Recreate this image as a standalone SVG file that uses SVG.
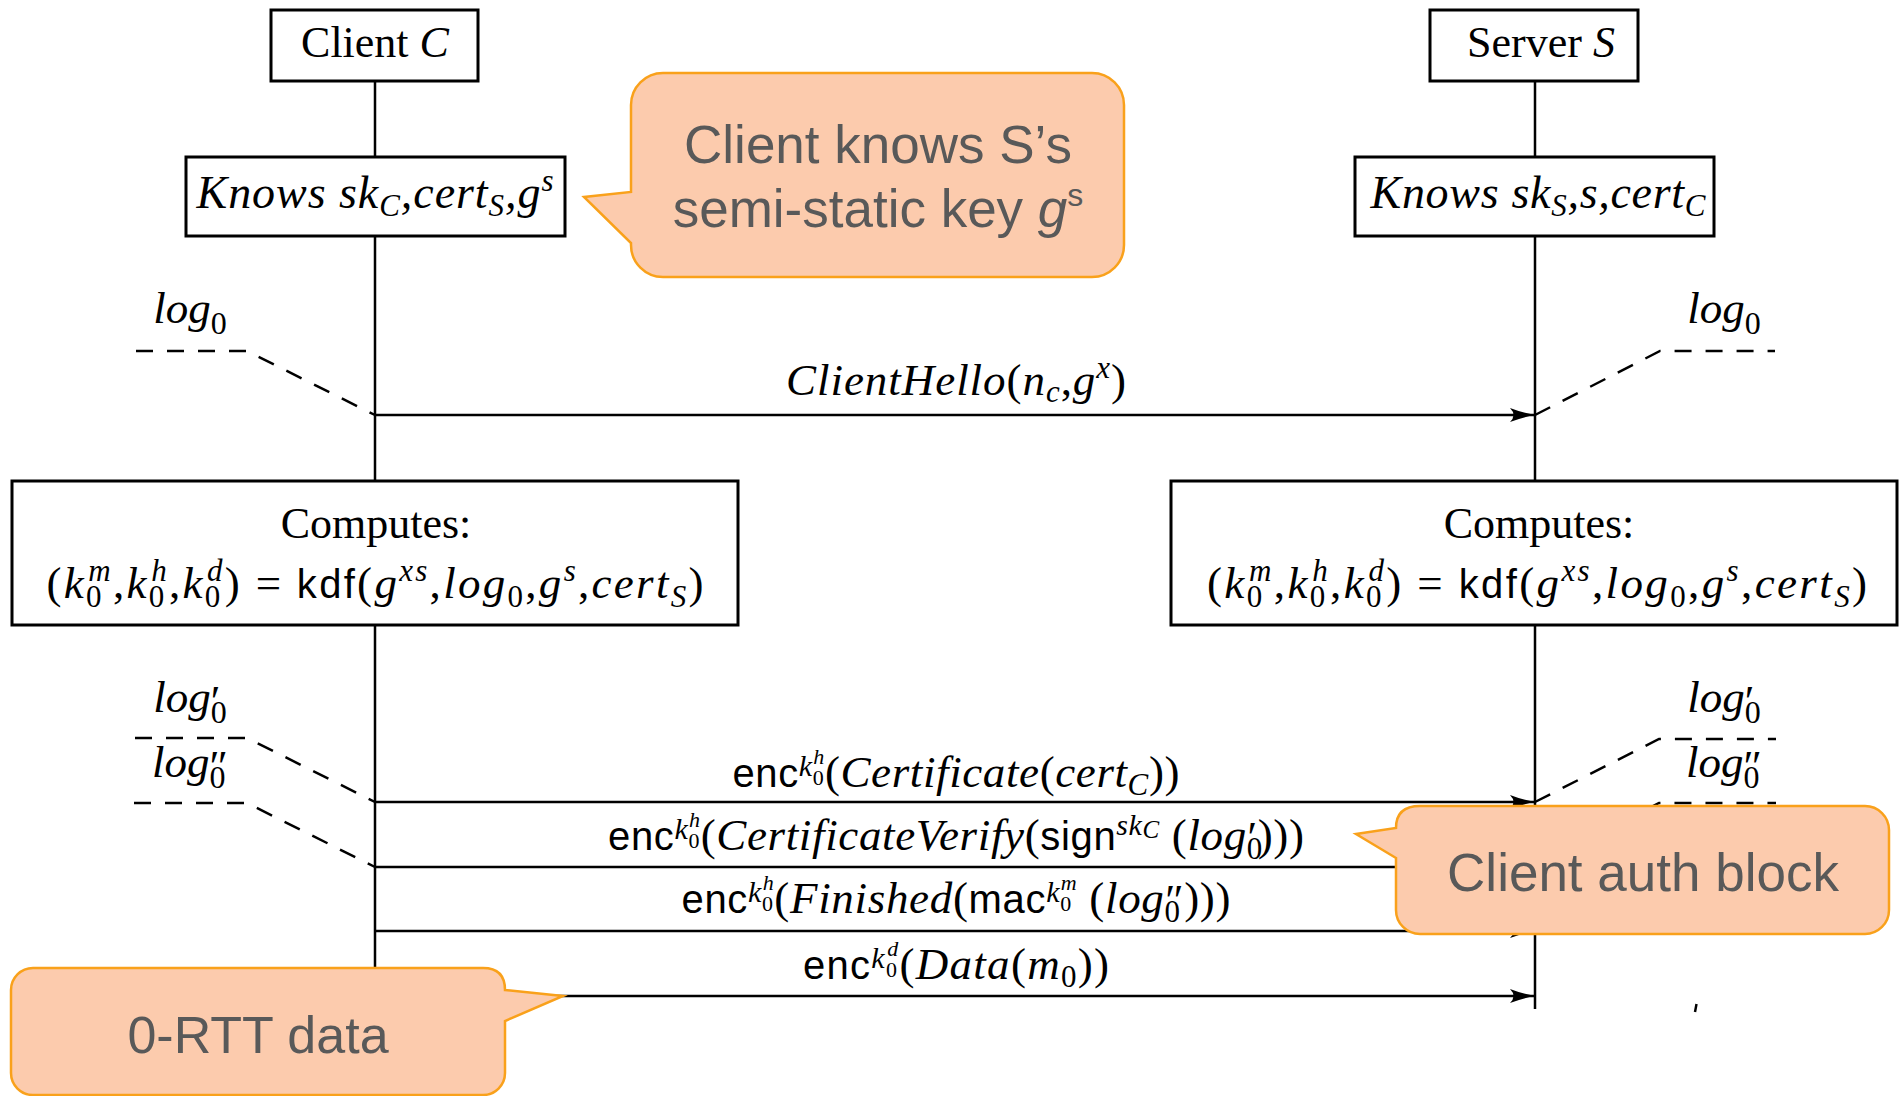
<svg xmlns="http://www.w3.org/2000/svg" width="1899" height="1096" viewBox="0 0 1899 1096">
<defs>
<style>
.box{fill:#fff;stroke:#000;stroke-width:3}
.life{fill:none;stroke:#000;stroke-width:2.5}
.msg{fill:none;stroke:#000;stroke-width:2.5;marker-end:url(#arrow)}
.dash{fill:none;stroke:#000;stroke-width:2.5;stroke-dasharray:17 14}
.t{font-family:"Liberation Serif","Times New Roman",serif;fill:#000}
.i{font-style:italic}
.sf{font-family:"Liberation Sans",Arial,sans-serif;font-style:normal;font-size:40px}
.pr{font-style:normal;font-size:44px}
.call{fill:#FCCBAD;stroke:#F9A11B;stroke-width:2.5}
.note{font-family:"Liberation Sans",Arial,sans-serif;fill:#595959}
</style>
<marker id="arrow" markerUnits="userSpaceOnUse" markerWidth="28" markerHeight="16" refX="26" refY="7" orient="auto" overflow="visible">
<path d="M26,7 Q14,5 1,0 Q8,7 1,14 Q14,9 26,7 Z" fill="#000"/>
</marker>
</defs>
<rect width="1899" height="1096" fill="#fff"/>

<!-- lifelines, messages and log markers -->
<g id="connectors">
<path class="life" d="M375,81 V157 M375,236 V481 M375,625 V1009"/>
<path class="life" d="M1535,81 V157 M1535,236 V481 M1535,625 V1009"/>
<path class="msg" d="M375,415 H1535"/>
<path class="msg" d="M375,802 H1535"/>
<path class="msg" d="M375,867 H1535"/>
<path class="msg" d="M375,931 H1535"/>
<path class="msg" d="M375,996 H1535"/>
<path class="dash" d="M136,351 H247 L375,415"/>
<path class="dash" d="M1535,415 L1660,351 H1775"/>
<path class="dash" d="M135,738 H247 L375,802"/>
<path class="dash" d="M134,803 H247 L375,867"/>
<path class="dash" d="M1535,802 L1659,739 H1776"/>
<path class="dash" d="M1535,867 L1659,803 H1776"/>
<path d="M1696.5,1004 L1695,1012" stroke="#000" stroke-width="2.5"/>
</g>

<g id="client">
<rect class="box" x="271" y="10" width="207" height="71"/>
<text class="t" x="375" y="57" font-size="44" text-anchor="middle">Client <tspan class="i">C</tspan></text>
</g>
<g id="server">
<rect class="box" x="1430" y="10" width="208" height="71"/>
<text class="t" x="1541" y="57" font-size="44" text-anchor="middle">Server <tspan class="i">S</tspan></text>
</g>

<g id="client-knows">
<rect class="box" x="186" y="157" width="379" height="79"/>
<text class="t i" x="375" y="208" font-size="46" text-anchor="middle" textLength="357" lengthAdjust="spacing">Knows sk<tspan font-size="31" dy="8">C</tspan><tspan dy="-8">,cert</tspan><tspan font-size="31" dy="8">S</tspan><tspan dy="-8">,g</tspan><tspan font-size="31" dy="-17">s</tspan></text>
</g>
<g id="server-knows">
<rect class="box" x="1355" y="157" width="359" height="79"/>
<text class="t i" x="1538" y="208" font-size="46" text-anchor="middle" textLength="335" lengthAdjust="spacing">Knows sk<tspan font-size="31" dy="8">S</tspan><tspan dy="-8">,s,cert</tspan><tspan font-size="31" dy="8">C</tspan></text>
</g>

<g id="client-computes">
<rect class="box" x="12" y="481" width="726" height="144"/>
<text class="t" x="376" y="538" font-size="44" text-anchor="middle">Computes:</text>
<text class="t" x="375" y="598" font-size="45" text-anchor="middle" textLength="657" lengthAdjust="spacing">(<tspan class="i">k</tspan><tspan font-size="31" dy="9">0</tspan><tspan class="i" font-size="31" dx="-15.5" dy="-26">m</tspan><tspan dy="17">,</tspan><tspan class="i">k</tspan><tspan font-size="31" dy="9">0</tspan><tspan class="i" font-size="31" dx="-15.5" dy="-26">h</tspan><tspan dy="17">,</tspan><tspan class="i">k</tspan><tspan font-size="31" dy="9">0</tspan><tspan class="i" font-size="31" dx="-15.5" dy="-26">d</tspan><tspan dy="17">) = </tspan><tspan class="sf">kdf</tspan>(<tspan class="i">g</tspan><tspan class="i" font-size="31" dy="-17">xs</tspan><tspan dy="17">,</tspan><tspan class="i">log</tspan><tspan font-size="31" dy="9">0</tspan><tspan dy="-9">,</tspan><tspan class="i">g</tspan><tspan class="i" font-size="31" dy="-17">s</tspan><tspan dy="17">,</tspan><tspan class="i">cert</tspan><tspan class="i" font-size="31" dy="9">S</tspan><tspan dy="-9">)</tspan></text>
</g>
<g id="server-computes">
<rect class="box" x="1171" y="481" width="726" height="144"/>
<text class="t" x="1539" y="538" font-size="44" text-anchor="middle">Computes:</text>
<text class="t" x="1537" y="598" font-size="45" text-anchor="middle" textLength="660" lengthAdjust="spacing">(<tspan class="i">k</tspan><tspan font-size="31" dy="9">0</tspan><tspan class="i" font-size="31" dx="-15.5" dy="-26">m</tspan><tspan dy="17">,</tspan><tspan class="i">k</tspan><tspan font-size="31" dy="9">0</tspan><tspan class="i" font-size="31" dx="-15.5" dy="-26">h</tspan><tspan dy="17">,</tspan><tspan class="i">k</tspan><tspan font-size="31" dy="9">0</tspan><tspan class="i" font-size="31" dx="-15.5" dy="-26">d</tspan><tspan dy="17">) = </tspan><tspan class="sf">kdf</tspan>(<tspan class="i">g</tspan><tspan class="i" font-size="31" dy="-17">xs</tspan><tspan dy="17">,</tspan><tspan class="i">log</tspan><tspan font-size="31" dy="9">0</tspan><tspan dy="-9">,</tspan><tspan class="i">g</tspan><tspan class="i" font-size="31" dy="-17">s</tspan><tspan dy="17">,</tspan><tspan class="i">cert</tspan><tspan class="i" font-size="31" dy="9">S</tspan><tspan dy="-9">)</tspan></text>
</g>

<!-- transcript labels -->
<g id="log-labels">
<text class="t i" x="190" y="323" font-size="45" text-anchor="middle">log<tspan font-style="normal" font-size="32" dy="11">0</tspan></text>
<text class="t i" x="1724" y="323" font-size="45" text-anchor="middle">log<tspan font-style="normal" font-size="32" dy="11">0</tspan></text>
<text class="t i" x="190" y="712" font-size="45" text-anchor="middle">log<tspan font-style="normal" font-size="32" dy="11">0</tspan><tspan class="pr" dx="-16" dy="-7">′</tspan></text>
<text class="t i" x="190" y="777" font-size="45" text-anchor="middle">log<tspan font-style="normal" font-size="32" dy="11">0</tspan><tspan class="pr" dx="-16" dy="-7">″</tspan></text>
<text class="t i" x="1724" y="712" font-size="45" text-anchor="middle">log<tspan font-style="normal" font-size="32" dy="11">0</tspan><tspan class="pr" dx="-16" dy="-7">′</tspan></text>
<text class="t i" x="1724" y="777" font-size="45" text-anchor="middle">log<tspan font-style="normal" font-size="32" dy="11">0</tspan><tspan class="pr" dx="-16" dy="-7">″</tspan></text>
</g>

<!-- message labels -->
<g id="message-labels">
<text class="t" x="956" y="395" font-size="45" text-anchor="middle" textLength="340" lengthAdjust="spacing"><tspan class="i">ClientHello</tspan>(<tspan class="i">n</tspan><tspan class="i" font-size="31" dy="7">c</tspan><tspan dy="-7">,</tspan><tspan class="i">g</tspan><tspan class="i" font-size="31" dy="-17">x</tspan><tspan dy="17">)</tspan></text>
<text class="t" x="956" y="787" font-size="45" text-anchor="middle" textLength="447" lengthAdjust="spacing"><tspan class="sf">enc</tspan><tspan class="i" font-size="30" dy="-11">k</tspan><tspan font-size="22" dy="9">0</tspan><tspan class="i" font-size="22" dx="-11" dy="-21">h</tspan><tspan dy="23">(</tspan><tspan class="i">Certificate</tspan>(<tspan class="i">cert</tspan><tspan class="i" font-size="31" dy="8">C</tspan><tspan dy="-8">))</tspan></text>
<text class="t" x="956" y="850" font-size="45" text-anchor="middle" textLength="696" lengthAdjust="spacing"><tspan class="sf">enc</tspan><tspan class="i" font-size="30" dy="-11">k</tspan><tspan font-size="22" dy="9">0</tspan><tspan class="i" font-size="22" dx="-11" dy="-21">h</tspan><tspan dy="23">(</tspan><tspan class="i">CertificateVerify</tspan>(<tspan class="sf">sign</tspan><tspan class="i" font-size="30" dy="-15">sk</tspan><tspan class="i" font-size="25" dy="3">C</tspan><tspan dy="12"> (</tspan><tspan class="i">log</tspan><tspan font-size="31" dy="9">0</tspan><tspan class="pr" dx="-15.5" dy="-7">′</tspan><tspan dy="-2">)))</tspan></text>
<text class="t" x="956" y="913" font-size="45" text-anchor="middle" textLength="549" lengthAdjust="spacing"><tspan class="sf">enc</tspan><tspan class="i" font-size="30" dy="-11">k</tspan><tspan font-size="22" dy="9">0</tspan><tspan class="i" font-size="22" dx="-11" dy="-21">h</tspan><tspan dy="23">(</tspan><tspan class="i">Finished</tspan>(<tspan class="sf">mac</tspan><tspan class="i" font-size="30" dy="-11">k</tspan><tspan font-size="22" dy="9">0</tspan><tspan class="i" font-size="22" dx="-11" dy="-21">m</tspan><tspan dy="23"> (</tspan><tspan class="i">log</tspan><tspan font-size="31" dy="9">0</tspan><tspan class="pr" dx="-15.5" dy="-7">″</tspan><tspan dy="-2">)))</tspan></text>
<text class="t" x="956" y="979" font-size="45" text-anchor="middle" textLength="306" lengthAdjust="spacing"><tspan class="sf">enc</tspan><tspan class="i" font-size="30" dy="-11">k</tspan><tspan font-size="22" dy="9">0</tspan><tspan class="i" font-size="22" dx="-11" dy="-21">d</tspan><tspan dy="23">(</tspan><tspan class="i">Data</tspan>(<tspan class="i">m</tspan><tspan font-size="31" dy="8">0</tspan><tspan dy="-8">))</tspan></text>
</g>

<!-- annotation callouts -->
<g id="note-semistatic">
<path class="call" d="M663,73 H1092 A32,32 0 0 1 1124,105 V245 A32,32 0 0 1 1092,277 H663 A32,32 0 0 1 631,245 V243 L584,197 L631,192 V105 A32,32 0 0 1 663,73 Z"/>
<text class="note" x="878" y="163" font-size="53" text-anchor="middle">Client knows S’s</text>
<text class="note" x="878" y="227" font-size="53" text-anchor="middle">semi-static key <tspan font-style="italic">g</tspan><tspan font-size="32" dy="-21">s</tspan></text>
</g>
<g id="note-auth">
<path class="call" d="M1396,858 L1356,834 L1396,828 Q1396,806 1420,806 H1865 A24,24 0 0 1 1889,830 V910 A24,24 0 0 1 1865,934 H1420 A24,24 0 0 1 1396,910 Z"/>
<text class="note" x="1643" y="891" font-size="53" text-anchor="middle">Client auth block</text>
</g>
<g id="note-0rtt">
<path class="call" d="M505,990 L563,996 L505,1021 V1073 A22,22 0 0 1 483,1095 H33 A22,22 0 0 1 11,1073 V990 A22,22 0 0 1 33,968 H483 Q505,968 505,990 Z"/>
<text class="note" x="258" y="1053" font-size="52" text-anchor="middle">0-RTT data</text>
</g>
</svg>
